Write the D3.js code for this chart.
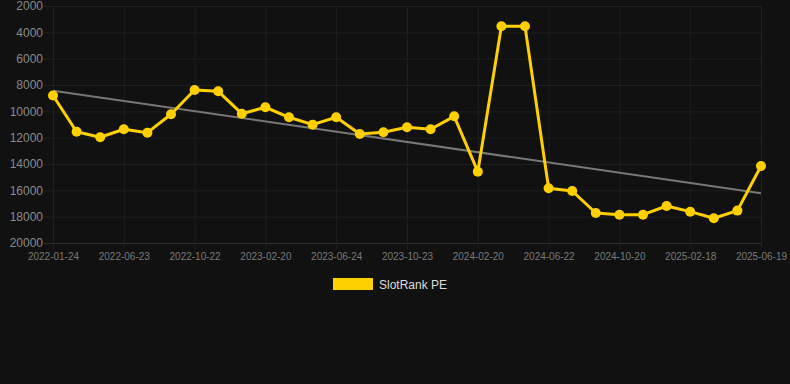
<!DOCTYPE html>
<html>
<head>
<meta charset="utf-8">
<script src="https://cdn.jsdelivr.net/npm/d3@7"></script>
<style>
  html, body { margin: 0; padding: 0; background: #111111; }
  svg { display: block; }
</style>
</head>
<body>
<svg id="chart" width="790" height="384"></svg>
<script>
const dates = ["2022-01-24","2022-03-15","2022-05-04","2022-06-23","2022-08-02","2022-09-11",
  "2022-10-22","2022-12-01","2023-01-10","2023-02-20","2023-04-01","2023-05-14",
  "2023-06-24","2023-08-03","2023-09-13","2023-10-23","2023-12-02","2024-01-11",
  "2024-02-20","2024-03-31","2024-05-12","2024-06-22","2024-08-01","2024-09-10",
  "2024-10-20","2024-11-29","2025-01-09","2025-02-18","2025-03-30","2025-05-10","2025-06-19"];
const rankValues = [8800, 11550, 11970, 11360, 11620, 10220, 8380, 8480, 10180, 9690, 10450, 11010,
  10450, 11720, 11590, 11210, 11360, 10380, 14580, 3540, 3540, 15840, 16050, 17720,
  17850, 17850, 17190, 17620, 18120, 17540, 14150];
const trendValues = [8430, 16220];
const yTicks = [2000, 4000, 6000, 8000, 10000, 12000, 14000, 16000, 18000, 20000];
const xTickLabels = ["2022-01-24","2022-06-23","2022-10-22","2023-02-20","2023-06-24","2023-10-23",
  "2024-02-20","2024-06-22","2024-10-20","2025-02-18","2025-06-19"];
const seriesName = "SlotRank PE";

const svg = d3.select("#chart");
const pLeft = 53, pRight = 761, pTop = 6, pBottom = 243;
const x = d3.scalePoint().domain(dates).range([pLeft, pRight]).padding(0);
const y = d3.scaleLinear().domain([2000, 20000]).range([pTop, pBottom]);

// grid
const grid = svg.append("g");
grid.selectAll("line.h").data(yTicks).join("line")
  .attr("x1", pLeft - 9).attr("x2", pRight)
  .attr("y1", d => y(d) + 0.5).attr("y2", d => y(d) + 0.5)
  .attr("stroke", d => d === 20000 ? "#2e2e2e" : "#1f1f1f").attr("stroke-width", 1);
grid.selectAll("line.v").data(xTickLabels).join("line")
  .attr("x1", d => x(d) + 0.5).attr("x2", d => x(d) + 0.5)
  .attr("y1", pTop).attr("y2", pBottom + 6)
  .attr("stroke", "#1f1f1f").attr("stroke-width", 1);

// y axis labels
const yAxis = d3.axisLeft(y).tickValues(yTicks).tickSize(0).tickPadding(10).tickFormat(d => String(d));
const gy = svg.append("g").attr("transform", `translate(${pLeft},0)`).call(yAxis);
gy.select(".domain").remove();
gy.selectAll("text").attr("fill", "#8a8a8a").style("font-family", "Arial, 'Liberation Sans', sans-serif").style("font-size", "12px");

// x axis labels
const xAxis = d3.axisBottom(x).tickValues(xTickLabels).tickSize(0).tickPadding(10);
const gx = svg.append("g").attr("transform", `translate(0,${pBottom})`).call(xAxis);
gx.select(".domain").remove();
gx.selectAll("text").attr("fill", "#7a7a7a").style("font-family", "Arial, 'Liberation Sans', sans-serif").style("font-size", "10px");

// trend line
svg.append("line")
  .attr("x1", x(dates[0])).attr("x2", x(dates[dates.length - 1]))
  .attr("y1", y(trendValues[0])).attr("y2", y(trendValues[1]))
  .attr("stroke", "#777777").attr("stroke-width", 2);

// series line
const line = d3.line().x((d, i) => x(dates[i])).y(d => y(d));
svg.append("path").datum(rankValues)
  .attr("d", line).attr("fill", "none")
  .attr("stroke", "#FFD000").attr("stroke-width", 3).attr("stroke-linejoin", "round");
svg.selectAll("circle.pt").data(rankValues).join("circle")
  .attr("cx", (d, i) => x(dates[i])).attr("cy", d => y(d))
  .attr("r", 5).attr("fill", "#FFD000");

// legend
const lg = svg.append("g");
lg.append("rect").attr("x", 333).attr("y", 278).attr("width", 40).attr("height", 12).attr("fill", "#FFD000");
lg.append("text").attr("x", 379).attr("y", 288.5).text(seriesName)
  .attr("fill", "#dddddd").style("font-family", "Arial, 'Liberation Sans', sans-serif").style("font-size", "12px");
</script>
</body>
</html>
